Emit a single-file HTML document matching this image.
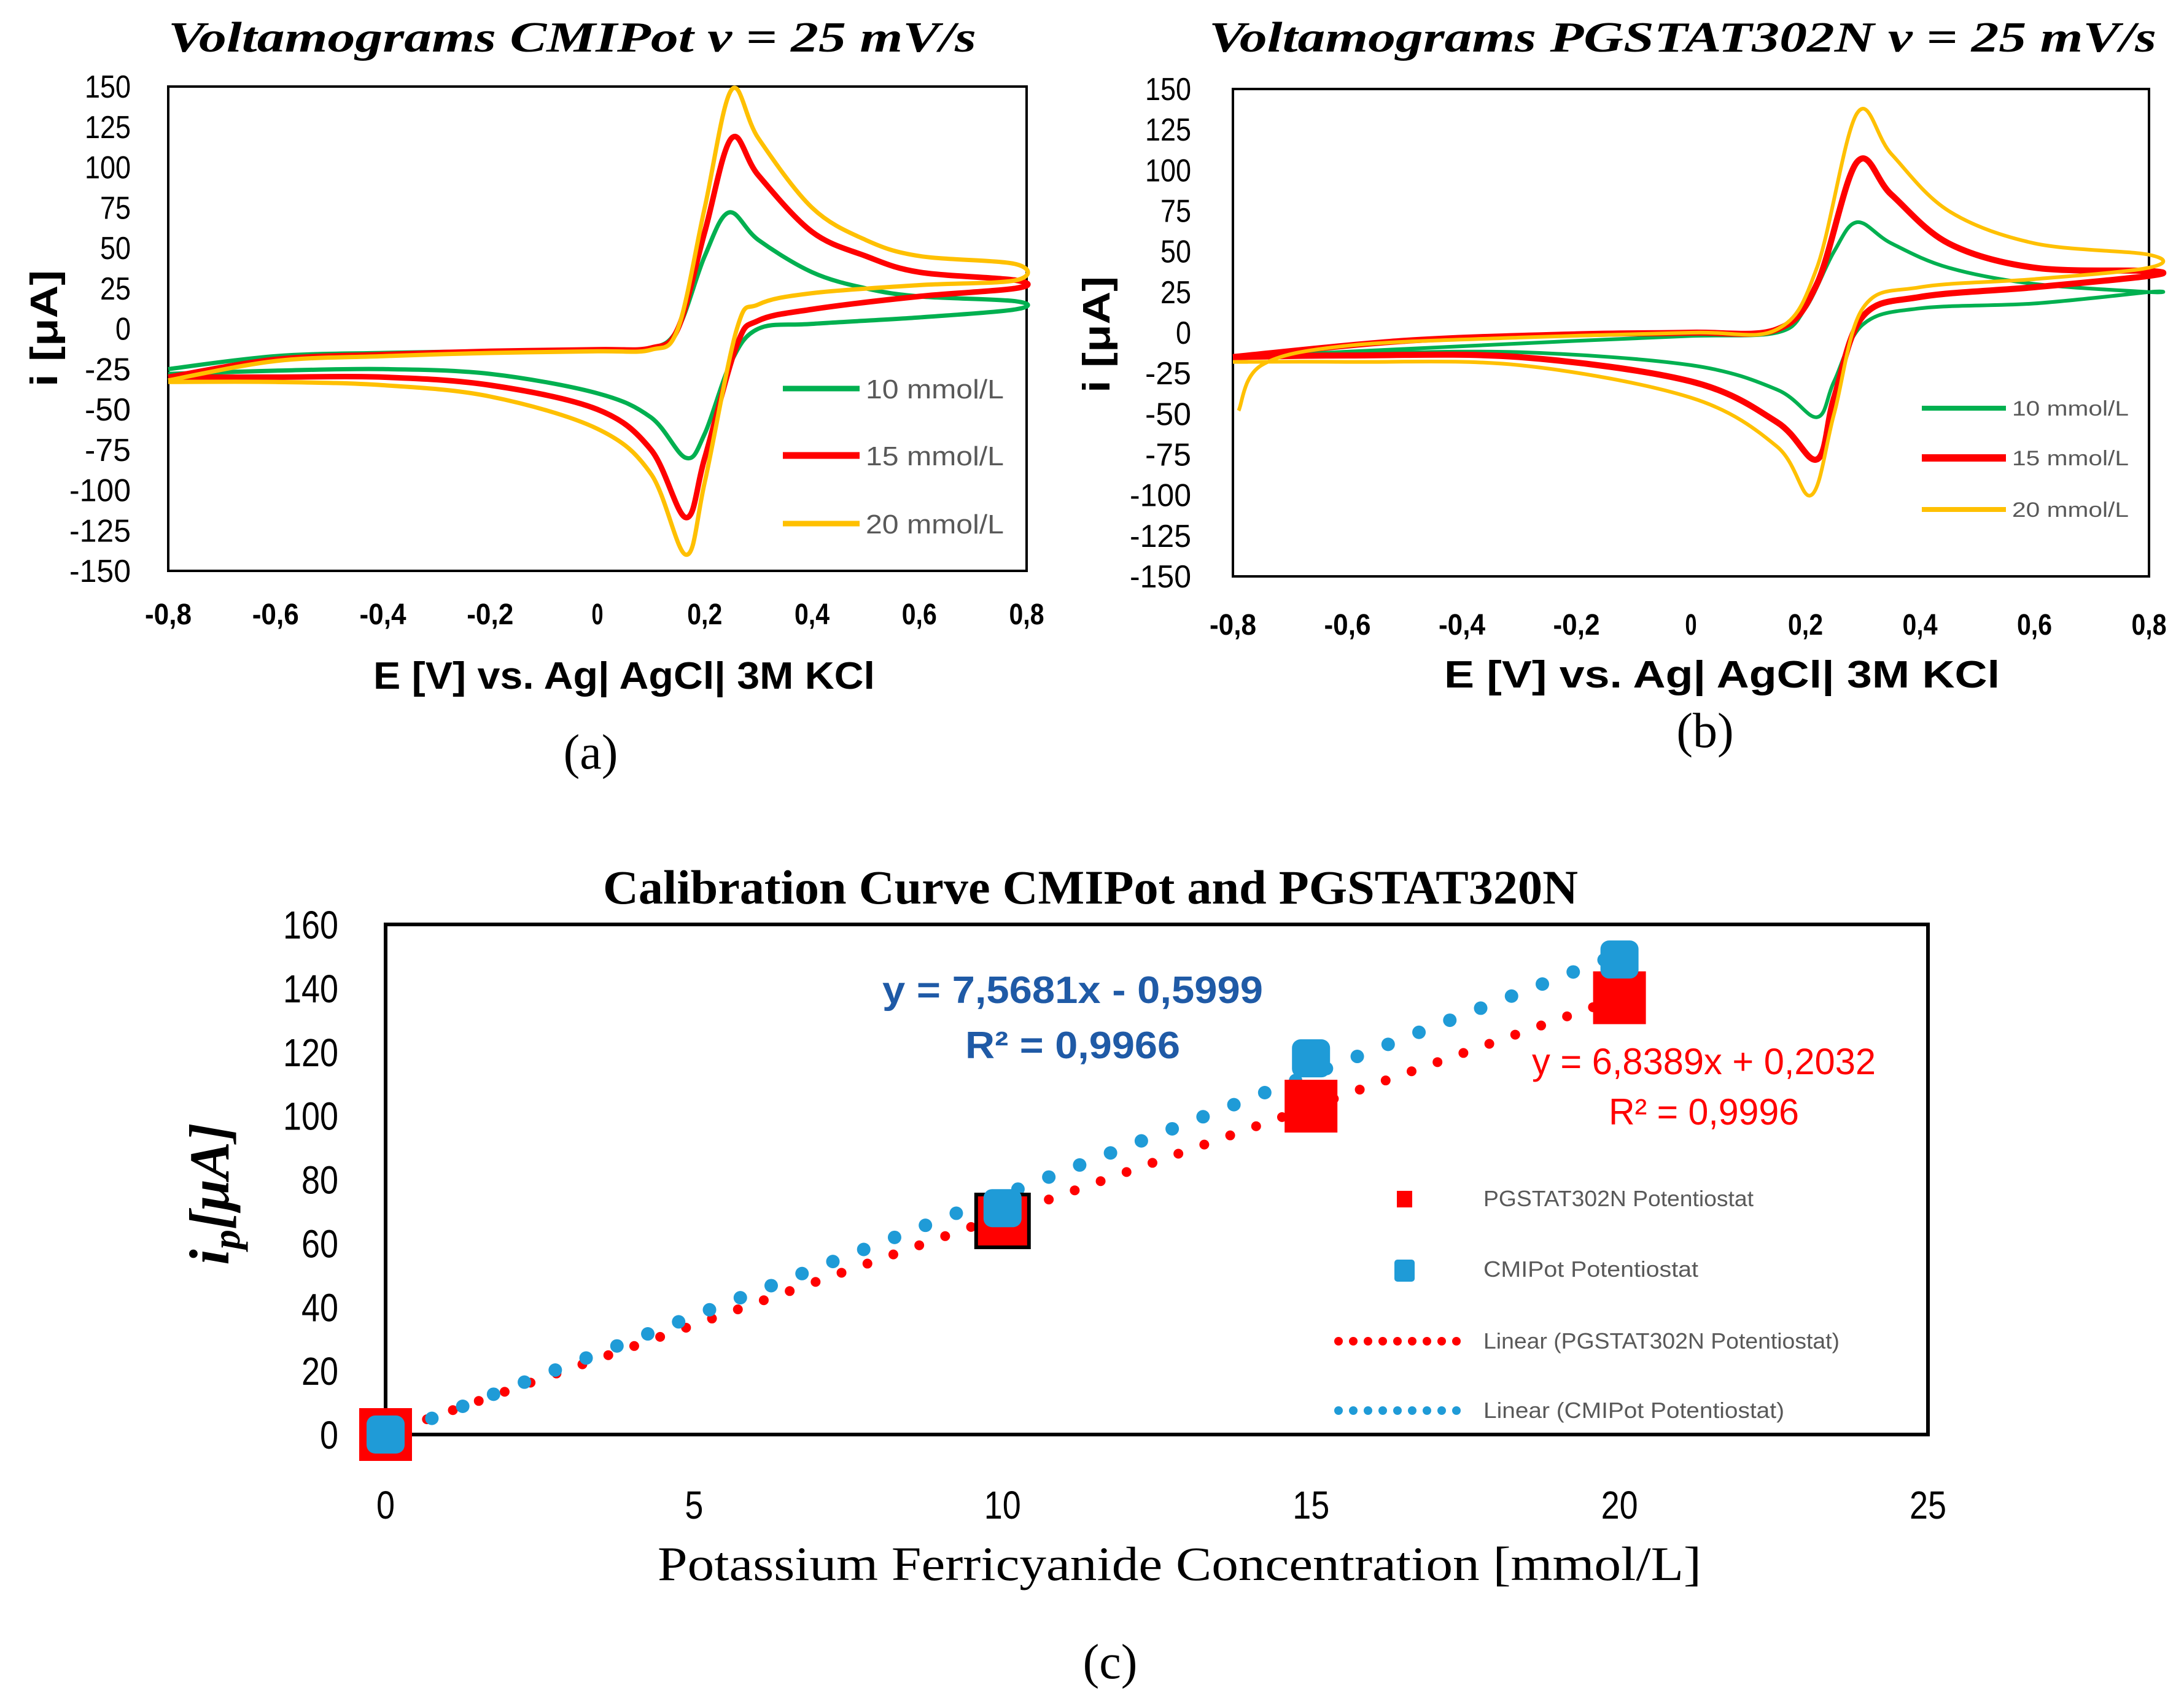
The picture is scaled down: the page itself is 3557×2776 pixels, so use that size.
<!DOCTYPE html>
<html><head><meta charset="utf-8"><style>html,body{margin:0;padding:0;background:#fff}svg{display:block}</style></head>
<body>
<svg id="fig" xmlns="http://www.w3.org/2000/svg" width="3557" height="2776" viewBox="0 0 3557 2776" font-family="'Liberation Sans', sans-serif">
<rect width="3557" height="2776" fill="#fff"/>
<g id="ga"></g>
<g id="gb"></g>
<g id="gc"></g>
</svg>
<script>
// ---------- Data: chart (a) CMIPot ----------
const cvSeriesNames = ["10 mmol/L", "15 mmol/L", "20 mmol/L"];
const cvColors = ["#00b050", "#ff0000", "#ffc000"];
const cvYTicks = [150,125,100,75,50,25,0,-25,-50,-75,-100,-125,-150];
const cvXTicks = [-0.8,-0.6,-0.4,-0.2,0,0.2,0.4,0.6,0.8];
const cvXTickLabels = ["-0,8","-0,6","-0,4","-0,2","0","0,2","0,4","0,6","0,8"];
const aE10 = [-0.8,-0.6,-0.4,-0.2,0,0.1,0.15,0.2,0.245,0.3,0.4,0.5,0.6,0.78,0.78,0.6,0.4,0.3,0.25,0.2,0.165,0.1,0,-0.2,-0.4,-0.6,-0.8];
const aI10 = [-25,-17,-15,-14,-13,-12,0,45,72,55,35,25,20,17,12,7,3,0,-20,-65,-80,-55,-40,-28,-25,-26,-28];
const aE15 = [-0.8,-0.6,-0.4,-0.2,0,0.1,0.15,0.2,0.25,0.3,0.4,0.5,0.6,0.78,0.78,0.6,0.4,0.3,0.26,0.2,0.165,0.1,0,-0.2,-0.4,-0.6,-0.8];
const aI15 = [-30,-19,-16,-14,-13,-12,0,60,118,95,60,45,35,30,25,20,12,5,-10,-80,-117,-75,-50,-35,-30,-30,-30];
const aE20 = [-0.8,-0.6,-0.4,-0.2,0,0.1,0.15,0.2,0.25,0.3,0.4,0.5,0.6,0.78,0.78,0.6,0.4,0.3,0.26,0.2,0.165,0.1,0,-0.2,-0.4,-0.6,-0.8];
const aI20 = [-32,-20,-17,-15,-14,-13,0,75,148,118,75,55,45,40,30,27,22,15,0,-95,-140,-90,-62,-42,-35,-33,-33];
// ---------- Data: chart (b) PGSTAT302N ----------
const bE10 = [-0.8,-0.5,-0.2,0,0.15,0.2,0.25,0.29,0.35,0.45,0.6,0.8,0.8,0.6,0.4,0.3,0.25,0.22,0.15,0,-0.3,-0.6,-0.8];
const bI10 = [-15,-10,-5,-2,0,15,50,68,55,40,30,25,25,18,15,5,-30,-52,-35,-20,-12,-13,-15];
const bE15 = [-0.8,-0.5,-0.2,0,0.15,0.22,0.29,0.35,0.45,0.6,0.8,0.8,0.6,0.4,0.3,0.25,0.22,0.15,0,-0.3,-0.6,-0.8];
const bI15 = [-15,-5,-1,0,2,30,105,85,55,40,38,35,28,22,10,-40,-78,-55,-30,-15,-14,-15];
const bE20 = [-0.79,-0.75,-0.6,-0.3,0,0.15,0.22,0.29,0.35,0.45,0.6,0.8,0.8,0.6,0.4,0.3,0.25,0.21,0.15,0,-0.3,-0.6,-0.8];
const bI20 = [-48,-20,-8,-3,0,2,40,135,110,75,55,48,40,33,28,15,-50,-100,-70,-40,-20,-18,-18];
// ---------- Data: chart (c) calibration ----------
const calConc = [0, 10, 15, 20];
const calPgstat = [0, 67, 103, 137];
const calCmipot = [0, 71, 118, 149];
const fitPgstat = [6.8389, 0.2032];
const fitCmipot = [7.5681, -0.5999];
const calYTicks = [0,20,40,60,80,100,120,140,160];
const calXTicks = [0,5,10,15,20,25];

const NS = "http://www.w3.org/2000/svg";
function mk(parent, tag, attrs, text){
  const e = document.createElementNS(NS, tag);
  for (const k in attrs) e.setAttribute(k, attrs[k]);
  if (text !== undefined) e.textContent = text;
  parent.appendChild(e); return e;
}
function smoothPath(pts){
  let d = "M" + pts[0][0].toFixed(1) + "," + pts[0][1].toFixed(1);
  for (let i = 0; i < pts.length - 1; i++){
    const p0 = pts[Math.max(0,i-1)], p1 = pts[i], p2 = pts[i+1], p3 = pts[Math.min(pts.length-1,i+2)];
    const c1 = [p1[0]+(p2[0]-p0[0])/6, p1[1]+(p2[1]-p0[1])/6];
    const c2 = [p2[0]-(p3[0]-p1[0])/6, p2[1]-(p3[1]-p1[1])/6];
    d += "C"+c1[0].toFixed(1)+","+c1[1].toFixed(1)+" "+c2[0].toFixed(1)+","+c2[1].toFixed(1)+" "+p2[0].toFixed(1)+","+p2[1].toFixed(1);
  }
  return d;
}

function cvChart(g, cfg){
  const sx = v => cfg.x0 + (v - (-0.8)) / 1.6 * (cfg.x1 - cfg.x0);
  const sy = v => cfg.y1 - (v - (-150)) / 300 * (cfg.y1 - cfg.y0);
  const title = mk(g, "text", {x:(cfg.tx0+cfg.tx1)/2, y:cfg.ty, "text-anchor":"middle", "font-family":"'Liberation Serif', serif", "font-style":"italic", "font-weight":"bold", "font-size":70, textLength:cfg.tx1-cfg.tx0, lengthAdjust:"spacingAndGlyphs"}, cfg.title);
  
  
  const box = mk(g, "rect", {x:cfg.x0, y:cfg.y0, width:cfg.x1-cfg.x0, height:cfg.y1-cfg.y0, fill:"none", stroke:"#000", "stroke-width":4});
  
  
  cvYTicks.forEach(v => {
    const t = mk(g, "text", {x:cfg.ylx, y:sy(v)+18, "text-anchor":"end", "font-size":52, textLength:String(v).length*25, lengthAdjust:"spacingAndGlyphs"}, String(v));
    
    
  });
  cvXTicks.forEach((v,i) => {
    const t = mk(g, "text", {x:sx(v), y:cfg.xly, "text-anchor":"middle", "font-size":48, "font-weight":"bold", textLength:cvXTickLabels[i].length*19, lengthAdjust:"spacingAndGlyphs"}, cvXTickLabels[i]);
    
    
  });
  const xt = mk(g, "text", {x:(cfg.xt0+cfg.xt1)/2, y:cfg.xty, "text-anchor":"middle", "font-size":62, "font-weight":"bold", textLength:cfg.xt1-cfg.xt0, lengthAdjust:"spacingAndGlyphs"}, "E [V] vs. Ag| AgCl| 3M KCl");
  
  
  const yt = mk(g, "text", {x:0, y:0, "text-anchor":"middle", "font-size":62, "font-weight":"bold", transform:"translate("+(cfg.ytx+20)+","+cfg.yty+") rotate(-90)", textLength:190, lengthAdjust:"spacingAndGlyphs"}, "i [μA]");
  
  
  const cap = mk(g, "text", {x:cfg.capx, y:cfg.capy, "text-anchor":"middle", "font-family":"'Liberation Serif', serif", "font-size":80}, cfg.cap);
  
  
  cfg.series.forEach((s,k) => {
    const pts = s[0].map((e,i) => [sx(e), sy(s[1][i])]);
    const p = mk(g, "path", {d:smoothPath(pts), fill:"none", stroke:cvColors[k], "stroke-width":cfg.lw[k], "stroke-linejoin":"round"});
    
    
  });
  cfg.legY.forEach((ly,k) => {
    const l = mk(g, "line", {x1:cfg.legX0, x2:cfg.legX1, y1:ly, y2:ly, stroke:cvColors[k], "stroke-width":cfg.lw[k]+2});
    
    
    const t = mk(g, "text", {x:cfg.legX1+10, y:ly+cfg.legFs*0.36, "font-size":cfg.legFs, fill:"#595959", textLength:cfg.legTL, lengthAdjust:"spacingAndGlyphs"}, cvSeriesNames[k]);
    
    
  });
}

cvChart(document.getElementById("ga"), {
  x0:274, x1:1672, y0:141, y1:930, title:"Voltamograms CMIPot v = 25 mV/s", tx0:274, tx1:1590, ty:84,
  ylx:213, xly:1017, xt0:608, xt1:1425, xty:1122, ytx:73, yty:535, capx:962, capy:1252, cap:"(a)",
  series:[[aE10,aI10],[aE15,aI15],[aE20,aI20]], lw:[7,9,7],
  legY:[633,742,853], legX0:1275, legX1:1400, legFs:44, legTL:225
});
cvChart(document.getElementById("gb"), {
  x0:2008, x1:3500, y0:145, y1:939, title:"Voltamograms PGSTAT302N v = 25 mV/s", tx0:1969, tx1:3512, ty:84,
  ylx:1940, xly:1034, xt0:2352, xt1:3257, xty:1120, ytx:1787, yty:545, capx:2777, capy:1217, cap:"(b)",
  series:[[bE10,bI10],[bE15,bI15],[bE20,bI20]], lw:[6,10,6],
  legY:[665,746,830], legX0:3130, legX1:3267, legFs:34, legTL:190
});

// ---------- chart (c) ----------
(function(){
  const g = document.getElementById("gc");
  const x0=628, x1=3140, y0=1506, y1=2337;
  const sx = v => x0 + v/25*(x1-x0);
  const sy = v => y1 - v/160*(y1-y0);
  const title = mk(g, "text", {x:1776, y:1472, "text-anchor":"middle", "font-family":"'Liberation Serif', serif", "font-weight":"bold", "font-size":78, textLength:1588, lengthAdjust:"spacingAndGlyphs"}, "Calibration Curve CMIPot and PGSTAT320N");
  
  
  const box = mk(g, "rect", {x:x0, y:y0, width:x1-x0, height:y1-y0, fill:"none", stroke:"#000", "stroke-width":6});
  
  
  calYTicks.forEach(v => {
    const t = mk(g, "text", {x:551, y:sy(v)+23, "text-anchor":"end", "font-size":64, textLength:String(v).length*30, lengthAdjust:"spacingAndGlyphs"}, String(v));
    
    
  });
  calXTicks.forEach(v => {
    const t = mk(g, "text", {x:sx(v), y:2474, "text-anchor":"middle", "font-size":64, textLength:String(v).length*30, lengthAdjust:"spacingAndGlyphs"}, String(v));
    
    
  });
  const xt = mk(g, "text", {x:1921, y:2574, "text-anchor":"middle", "font-family":"'Liberation Serif', serif", "font-size":78, textLength:1700, lengthAdjust:"spacingAndGlyphs"}, "Potassium Ferricyanide Concentration [mmol/L]");
  
  
  const yt = mk(g, "text", {x:0, y:0, "text-anchor":"middle", "font-family":"'Liberation Serif', serif", "font-style":"italic", "font-weight":"bold", "font-size":92, transform:"translate(372,1945) rotate(-90)"});
  
  
  mk(yt, "tspan", {}, "i");
  mk(yt, "tspan", {"font-size":64, dy:18}, "p");
  mk(yt, "tspan", {dy:-18}, "[μA]");
  const cap = mk(g, "text", {x:1808, y:2734, "text-anchor":"middle", "font-family":"'Liberation Serif', serif", "font-size":80}, "(c)");
  
  
  function trend(fit, color, step, r, name){
    const tg = mk(g, "g", {});
    
    
    for (let c = 0.25; c <= calConc[calConc.length-1] + 1e-6; c += step){
      mk(tg, "circle", {cx:sx(c), cy:sy(fit[0]*c + fit[1]), r:r, fill:color});
    }
  }
  trend(fitPgstat, "#ff0000", 0.42, 8, "trendline-pgstat");
  trend(fitCmipot, "#1f9bd7", 0.5, 11, "trendline-cmipot");
  calConc.forEach((c,i) => {
    const s = 86;
    const m = mk(g, "rect", {x:sx(c)-s/2, y:sy(calPgstat[i])-s/2, width:s, height:s, fill:"#ff0000", stroke: i===1 ? "#000" : "none", "stroke-width":6});
    
    
  });
  calConc.forEach((c,i) => {
    const s = 62;
    const m = mk(g, "rect", {x:sx(c)-s/2, y:sy(calCmipot[i])-s/2, width:s, height:s, rx:14, fill:"#1f9bd7"});
    
    
  });
  const eq = [
    [1747, 1634, "y = 7,5681x - 0,5999", "#1f5aa6", "bold", 62, 620, "equation-cmipot"],
    [1747, 1724, "R² = 0,9966", "#1f5aa6", "bold", 62, 350, "r2-cmipot"],
    [2775, 1750, "y = 6,8389x + 0,2032", "#ff0000", "normal", 60, 560, "equation-pgstat"],
    [2775, 1832, "R² = 0,9996", "#ff0000", "normal", 60, 310, "r2-pgstat"]
  ];
  eq.forEach(e => {
    const t = mk(g, "text", {x:e[0], y:e[1], "text-anchor":"middle", fill:e[3], "font-weight":e[4], "font-size":e[5], textLength:e[6], lengthAdjust:"spacingAndGlyphs"}, e[2]);
    
    
  });
  const lg = mk(g, "g", {});
  
  
  mk(lg, "rect", {x:2275, y:1940, width:25, height:27, fill:"#ff0000"});
  mk(lg, "rect", {x:2271, y:2052, width:33, height:36, rx:5, fill:"#1f9bd7"});
  for (let x = 2180; x <= 2393; x += 24) mk(lg, "circle", {cx:x, cy:2185, r:7, fill:"#ff0000"});
  for (let x = 2180; x <= 2393; x += 24) mk(lg, "circle", {cx:x, cy:2298, r:7, fill:"#1f9bd7"});
  const labs = [[1965,"PGSTAT302N Potentiostat",440],[2080,"CMIPot Potentiostat",350],[2197,"Linear (PGSTAT302N Potentiostat)",580],[2310,"Linear (CMIPot Potentiostat)",490]];
  labs.forEach(l => {
    const t = mk(lg, "text", {x:2416, y:l[0], "font-size":36, fill:"#595959", textLength:l[2], lengthAdjust:"spacingAndGlyphs"}, l[1]);
    
    
  });
})();
</script>
</body></html>
